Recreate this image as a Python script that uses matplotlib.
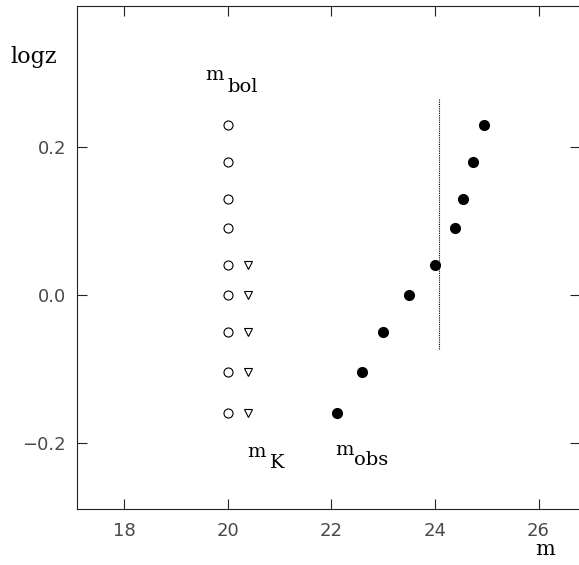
import matplotlib
matplotlib.use("Agg")
import matplotlib.pyplot as plt

# redshift bins (log z) and magnitudes
logz_bol = [0.23, 0.18, 0.13, 0.09, 0.04, 0.0, -0.05, -0.105, -0.16]
m_bol = [20.0, 20.0, 20.0, 20.0, 20.0, 20.0, 20.0, 20.0, 20.0]

logz_k = [0.04, 0.0, -0.05, -0.105, -0.16]
m_k = [20.4, 20.4, 20.4, 20.4, 20.4]

logz_obs = [0.23, 0.18, 0.13, 0.09, 0.04, 0.0, -0.05, -0.105, -0.16]
m_obs = [24.95, 24.74, 24.54, 24.39, 24.0, 23.5, 22.99, 22.59, 22.1]

limit_m = 24.08
limit_logz = [-0.073, 0.265]

xticks = [18, 20, 22, 24, 26]
yticks = [-0.2, 0.0, 0.2]
ytick_labels = ["\u22120.2", "0.0", "0.2"]

serif = "DejaVu Serif"
tick_col = "#4a4a4a"

fig = plt.figure(figsize=(5.79, 5.65), dpi=100)
ax = fig.add_axes([0.133, 0.0991, 0.8687, 0.8903])

ax.plot(m_bol, logz_bol, "o", ms=6.5, mfc="white", mec="black", mew=0.8, ls="none")
ax.plot(m_k, logz_k, "v", ms=6, mfc="white", mec="black", mew=0.8, ls="none")
ax.plot(m_obs, logz_obs, "o", ms=7, mfc="black", mec="black", ls="none")
ax.plot([limit_m, limit_m], limit_logz, color="black", lw=0.8, dashes=(1, 1))

ax.set_xlim(17.09, 26.8)
ax.set_ylim(-0.29, 0.391)
ax.set_xticks(xticks)
ax.set_yticks(yticks)
ax.set_yticklabels(ytick_labels)
ax.tick_params(direction="in", length=7, width=0.8, color="#222222",
               top=True, right=True, labelsize=13, labelcolor=tick_col)
ax.tick_params(axis="x", pad=9)
ax.tick_params(axis="y", pad=8)
for sp in ax.spines.values():
    sp.set_linewidth(0.8)
    sp.set_color("#222222")

# labels with subscripts drawn at the same size, just lowered
txt = dict(family=serif, fontsize=14, va="baseline", ha="left", color="black")
ax.text(19.56, 0.2907, "m", **txt)
ax.text(20.0, 0.274, "bol", **txt)
ax.text(20.37, -0.219, "m", **txt)
ax.text(20.82, -0.234, "K", **txt)
ax.text(22.07, -0.217, "m", **txt)
ax.text(22.43, -0.230, "obs", **txt)

fig.text(10 / 579, 1 - 63 / 565, "logz", family=serif, fontsize=16, va="baseline", ha="left")
fig.text(535 / 579, 1 - 555 / 565, "m", family=serif, fontsize=15, va="baseline", ha="left")

fig.savefig("out.png", dpi=100)
